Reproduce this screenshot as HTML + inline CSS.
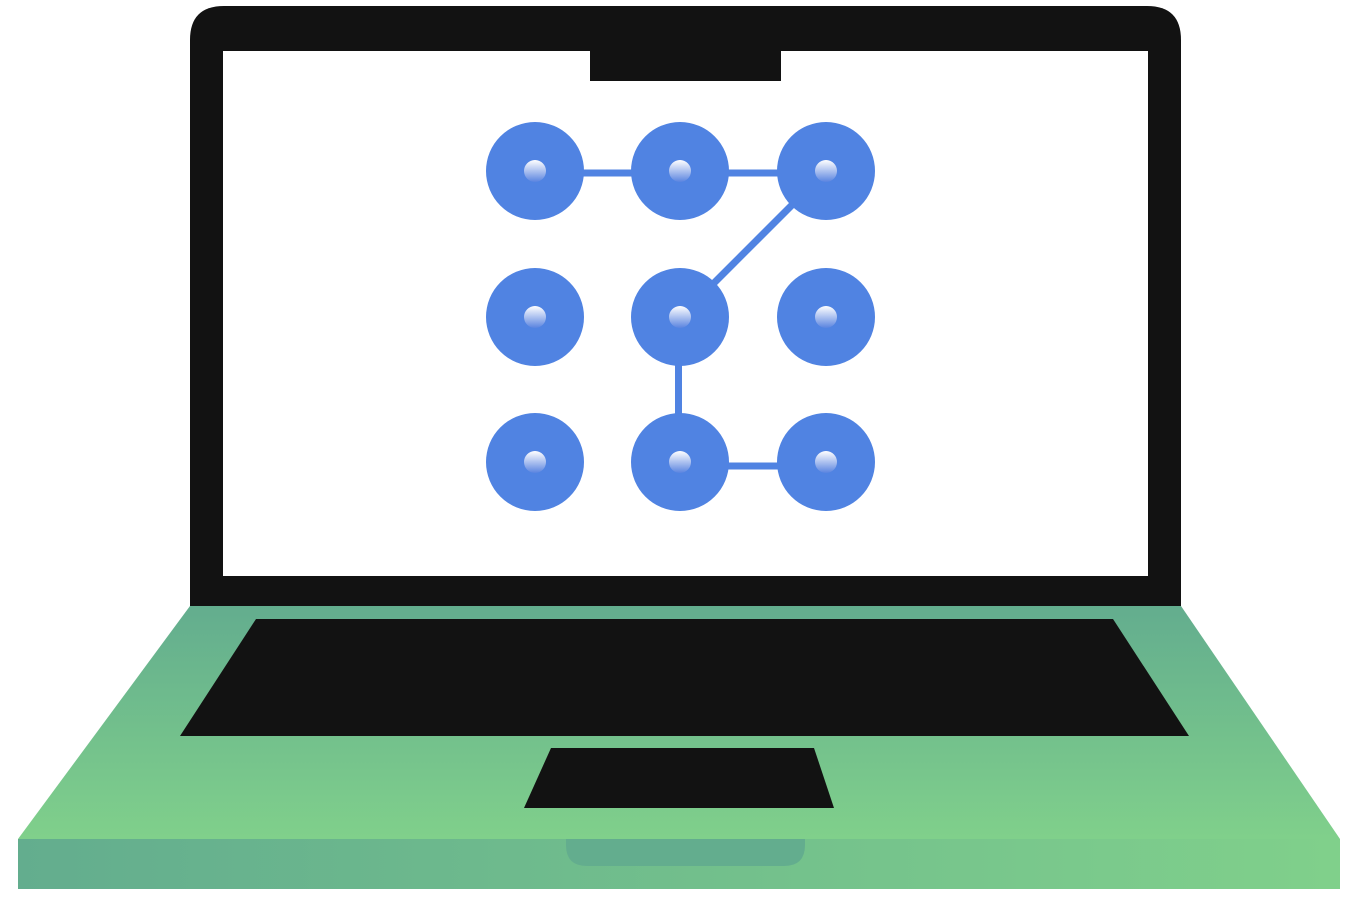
<!DOCTYPE html>
<html><head><meta charset="utf-8"><style>html,body{margin:0;padding:0;background:#fff}svg{display:block}</style></head>
<body>
<svg width="1353" height="909" viewBox="0 0 1353 909" xmlns="http://www.w3.org/2000/svg">
<defs>
<linearGradient id="bg" x1="0" y1="0" x2="0" y2="1"><stop offset="0" stop-color="#63ad8e"/><stop offset="1" stop-color="#80d08b"/></linearGradient>
<linearGradient id="fg" x1="0" y1="0" x2="1" y2="0"><stop offset="0" stop-color="#63ad8e"/><stop offset="1" stop-color="#80d08b"/></linearGradient>
<linearGradient id="dot" x1="0" y1="0" x2="0" y2="1"><stop offset="0" stop-color="#ffffff"/><stop offset="1" stop-color="#5a84e0"/></linearGradient>
</defs>
<path d="M190 606 V40 Q190 6 224 6 H1147 Q1181 6 1181 40 V606 Z" fill="#121212"/>
<rect x="223" y="51" width="925" height="525" fill="#fff"/>
<rect x="590" y="51" width="191" height="30" fill="#121212"/>
<polygon points="190,606 1181,606 1340,839 18,839" fill="url(#bg)"/>
<polygon points="256,619 1113,619 1189,736 180,736" fill="#121212"/>
<polygon points="551,748 814,748 834,808 524,808" fill="#121212"/>
<rect x="18" y="839" width="1322" height="50" fill="url(#fg)"/>
<path d="M566 839 H805 V845 Q805 866 784 866 H587 Q566 866 566 845 Z" fill="#63ad8e"/>
<g stroke="#5083e2" stroke-width="7" fill="none">
<line x1="535" y1="173" x2="680" y2="173"/>
<line x1="680" y1="173" x2="826" y2="173"/>
<line x1="826" y1="171" x2="680" y2="317"/>
<line x1="678.5" y1="317" x2="678.5" y2="462"/>
<line x1="680" y1="466" x2="826" y2="466"/>
</g>
<g fill="#5083e2">
<circle cx="535" cy="171" r="49"/><circle cx="680" cy="171" r="49"/><circle cx="826" cy="171" r="49"/>
<circle cx="535" cy="317" r="49"/><circle cx="680" cy="317" r="49"/><circle cx="826" cy="317" r="49"/>
<circle cx="535" cy="462" r="49"/><circle cx="680" cy="462" r="49"/><circle cx="826" cy="462" r="49"/>
</g>
<g fill="url(#dot)">
<circle cx="535" cy="171" r="11"/><circle cx="680" cy="171" r="11"/><circle cx="826" cy="171" r="11"/>
<circle cx="535" cy="317" r="11"/><circle cx="680" cy="317" r="11"/><circle cx="826" cy="317" r="11"/>
<circle cx="535" cy="462" r="11"/><circle cx="680" cy="462" r="11"/><circle cx="826" cy="462" r="11"/>
</g>
</svg>
</body></html>
